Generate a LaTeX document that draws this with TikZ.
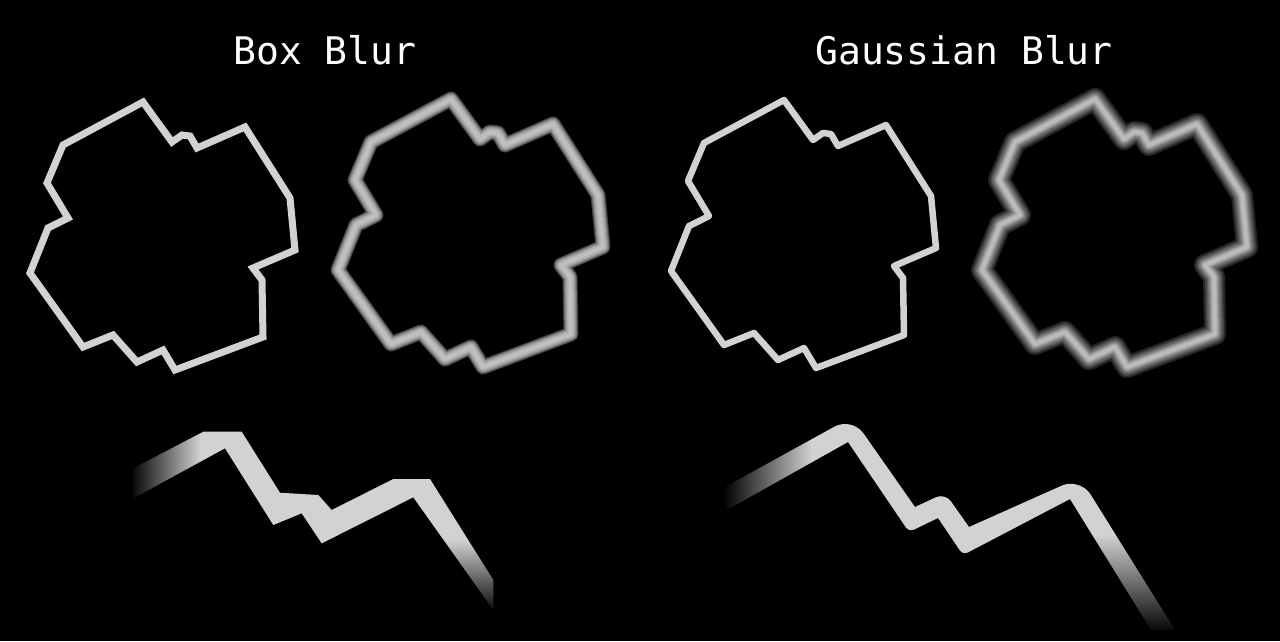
\documentclass[tikz,border=0pt]{standalone}
\usepackage{fontspec}
\newfontfamily\titlemono{DejaVu Sans Mono}
\usetikzlibrary{fadings}
\definecolor{linegray}{HTML}{D2D2D2}
\tikzfading[name=veil west, left color=transparent!0, right color=transparent!100]
\tikzfading[name=veil south, top color=transparent!100, bottom color=transparent!0]
\tikzset{
  title/.style={
    text=white,
    font=\titlemono\fontsize{38}{44}\selectfont,
    anchor=base
  },
  crisp/.style={
    draw=linegray,
    line width=7pt
  },
  haze/.style={
    draw=linegray,
    line join=round
  },
  blob/.pic={
    \draw[pic actions] (143,102) -- (172,142) -- (182,135) -- (190,136) -- (197,148)
      -- (245,127) -- (290,198) -- (295,250) -- (253,268) -- (262,280) -- (263,337)
      -- (175,370) -- (163,350) -- (137,362) -- (113,335) -- (83,347) -- (30,273)
      -- (48,228) -- (68,218) -- (47,183) -- (63,145) -- cycle;
  }
}

\begin{document}
\begin{tikzpicture}[x=1pt,y=-1pt]
  \fill[black] (0,0) rectangle (1280,641);
  \useasboundingbox (0,0) rectangle (1280,641);

  \node[title] (boxtitle) at (325,64.5) {Box Blur};
  \node[title] (gausstitle) at (964,64.5) {Gaussian Blur};

  \pic[crisp] at (0,0) {blob};
  \pic[crisp, line width=6.5pt, line join=round] at (641,-2) {blob};

  \foreach \w in {3,5,...,15}
    \pic[haze, line width=\w, opacity=.3] at (308,-3) {blob};
  \foreach \w in {2,3,4,5,6,7,8,10,12,15,18,22}
    \pic[haze, line width=\w, opacity=.18] at (952,-3) {blob};

  % enlarged pieces
  \fill[linegray] (133.3,468.3) -- (203.3,431.7) -- (241.7,431.7) -- (280,492.7) -- (318.3,495)
    -- (331.7,510) -- (393.3,479) -- (430,479) -- (493.3,580) -- (493.3,610) -- (413.3,497.3)
    -- (321.7,543.3) -- (301.7,513.3) -- (273.3,525) -- (225,448.3) -- (133.3,498.3) -- cycle;
  \fill[linegray] (725,487) [rounded corners=20pt] -- (852,417) [sharp corners] -- (915,507)
    [rounded corners=10pt] -- (945,493) [sharp corners] -- (969,527) [rounded corners=20pt]
    -- (1080,477.5) [sharp corners] -- (1175,630) -- (1151,630) -- (1070,499)
    [rounded corners=5pt] -- (963,555) [sharp corners] -- (938,518) [rounded corners=5pt]
    -- (909,532) [sharp corners] -- (848,442) -- (725,511) -- cycle;

  \fill[black, path fading=veil west] (130,420) rectangle (200,520);
  \fill[black, path fading=veil south] (438,540) rectangle (500,614);
  \fill[black, path fading=veil west] (723,430) rectangle (812,525);
  \fill[black, path fading=veil south] (1085,535) rectangle (1190,634);
\end{tikzpicture}
\end{document}
